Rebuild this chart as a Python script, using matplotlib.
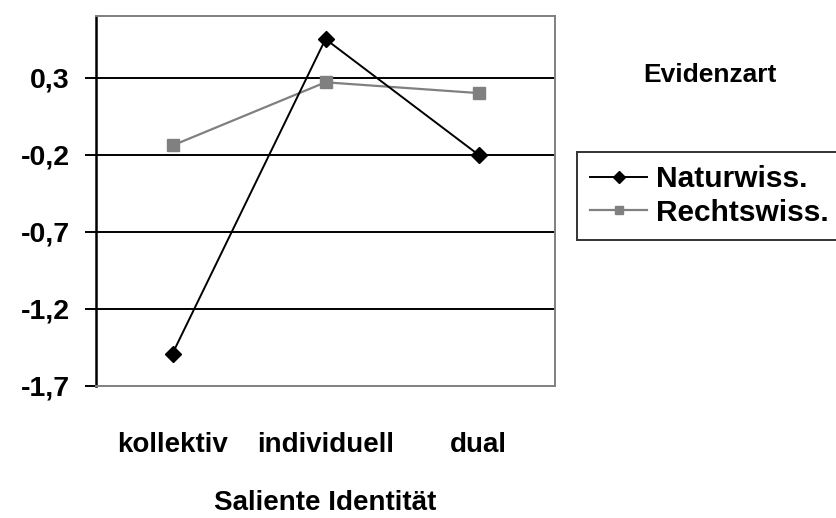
import matplotlib
matplotlib.use("Agg")
import matplotlib.pyplot as plt

# Daten
categories = ["kollektiv", "individuell", "dual"]
naturwiss = [-1.49, 0.55, -0.20]
rechtswiss = [-0.14, 0.27, 0.20]
y_ticks = [-1.7, -1.2, -0.7, -0.2, 0.3]
y_tick_labels = ["-1,7", "-1,2", "-0,7", "-0,2", "0,3"]

plt.rcParams['font.family'] = ['Liberation Sans', 'DejaVu Sans']
plt.rcParams['font.weight'] = 'bold'

fig = plt.figure(figsize=(8.36, 5.18), dpi=100)
ax = fig.add_axes([96 / 836, 1 - 386 / 518, 459 / 836, 370 / 518])

x = list(range(len(categories)))
ax.plot(x, naturwiss, color="black", lw=1.4, marker="D", markersize=8,
        label="Naturwiss.", zorder=4)
ax.plot(x, rechtswiss, color="#808080", lw=1.6, marker="s", markersize=8,
        label="Rechtswiss.", zorder=3)

ax.set_xlim(-0.5, 2.5)
ax.set_ylim(-1.7, 0.7)
ax.set_yticks(y_ticks)
ax.set_yticklabels(y_tick_labels, fontsize=20.5, fontweight="bold")
ax.set_xticks(x)
ax.set_xticklabels(categories, fontsize=20, fontweight="bold")
ax.tick_params(axis="x", length=0, pad=33)
ax.tick_params(axis="y", length=8, width=1.4, color="black", pad=11)

# horizontale Gitterlinien
for yv in y_ticks[1:]:
    ax.axhline(yv, color="black", lw=1.4, zorder=1)

for side in ["top", "right", "bottom"]:
    ax.spines[side].set_color("#808080")
    ax.spines[side].set_linewidth(1.4)
ax.spines["left"].set_color("black")
ax.spines["left"].set_linewidth(1.8)

ax.set_xlabel("Saliente Identität", fontsize=20, fontweight="bold", labelpad=23)

fig.text(710 / 836, 1 - 75 / 518, "Evidenzart", fontsize=19, fontweight="bold",
         ha="center", va="center")

leg = fig.legend(loc="upper left", bbox_to_anchor=(577 / 836, 1 - 152 / 518),
                 fontsize=21.5, frameon=True, fancybox=False, edgecolor="black",
                 handlelength=1.9, handletextpad=0.3, borderpad=0.45,
                 labelspacing=0.18, borderaxespad=0, markerscale=0.75)
leg.get_frame().set_linewidth(1.4)
for t in leg.get_texts():
    t.set_fontweight("bold")

fig.savefig("out.png", dpi=100)
